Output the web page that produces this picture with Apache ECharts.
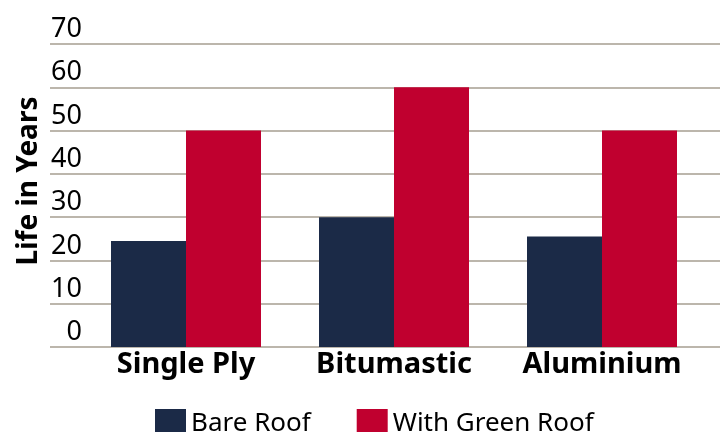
<!DOCTYPE html>
<html><head><meta charset="utf-8">
<script src="https://cdn.jsdelivr.net/npm/echarts@6/dist/echarts.min.js"></script>
<style>html,body{margin:0;padding:0;background:#fff}#c{width:724px;height:432px}</style>
</head><body><div id="c"></div>
<script>
const categories = ['Single Ply', 'Bitumastic', 'Aluminium'];
const bareRoof = [24.5, 30, 25.5];
const greenRoof = [50, 60, 50];
const seriesNames = ['Bare Roof', 'With Green Roof'];
const yAxisTitle = 'Life in Years';

const FONT = '"Noto Sans", sans-serif';
const chart = echarts.init(document.getElementById('c'));
chart.setOption({
  animation: false,
  color: ['#1b2a47', '#c0002f'],
  grid: [
    {left: 50, right: 4, top: 44, bottom: 85},
    {left: 82, right: 18, top: 44, bottom: 85}
  ],
  xAxis: [
    {gridIndex: 0, type: 'category', data: categories, show: false},
    {gridIndex: 1, type: 'category', data: categories,
     axisLine: {show: false}, axisTick: {show: false},
     axisLabel: {fontFamily: FONT, fontWeight: 'bold', fontSize: 29, color: '#000', margin: 3}}
  ],
  yAxis: [
    {gridIndex: 0, type: 'value', min: 0, max: 70, interval: 10,
     axisLabel: {show: false}, axisLine: {show: false}, axisTick: {show: false},
     splitLine: {show: true, lineStyle: {color: '#bcb6ac', width: 2}}},
    {gridIndex: 1, type: 'value', min: 0, max: 70, interval: 10,
     axisLine: {show: false}, axisTick: {show: false}, splitLine: {show: false},
     axisLabel: {fontFamily: FONT, fontSize: 27, color: '#000', margin: 0,
                 verticalAlign: 'bottom', padding: [0, 0, 1, 0]}}
  ],
  legend: {
    left: 150, top: 404, itemWidth: 31, itemHeight: 30, itemGap: 46,
    icon: 'rect',
    textStyle: {fontFamily: FONT, fontSize: 26, color: '#000', padding: [0, 0, 0, 0]},
    data: seriesNames
  },
  graphic: [{
    type: 'text', x: 29, y: 181, rotation: Math.PI / 2,
    style: {text: yAxisTitle, fontFamily: FONT, fontWeight: 'bold', fontSize: 28,
            fill: '#000', align: 'center', verticalAlign: 'middle'}
  }],
  series: [
    {name: seriesNames[0], type: 'bar', xAxisIndex: 1, yAxisIndex: 1,
     data: bareRoof, barWidth: 75, barGap: '0%'},
    {name: seriesNames[1], type: 'bar', xAxisIndex: 1, yAxisIndex: 1,
     data: greenRoof, barWidth: 75, barGap: '0%'}
  ]
});
</script></body></html>
